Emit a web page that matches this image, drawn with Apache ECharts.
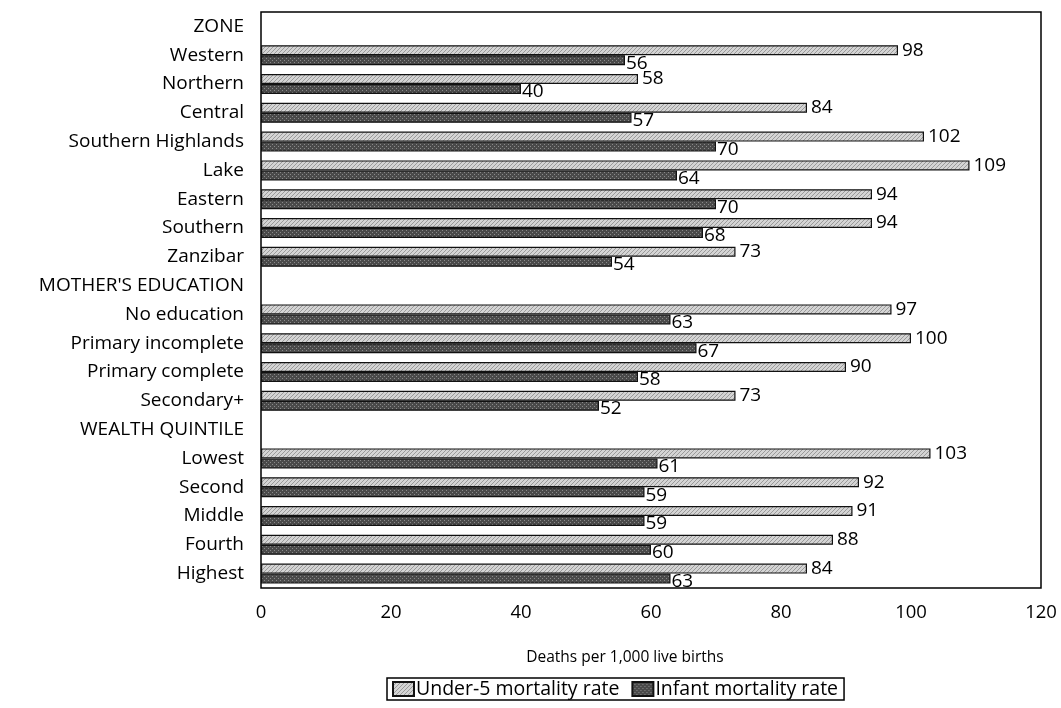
<!DOCTYPE html>
<html><head><meta charset="utf-8">
<script src="https://cdn.jsdelivr.net/npm/echarts@6/dist/echarts.min.js"></script>
<style>html,body{margin:0;padding:0;background:#fff}#c{width:1061px;height:708px}</style>
</head><body><div id="c"></div>
<script>
const categories = ["ZONE","Western","Northern","Central","Southern Highlands","Lake","Eastern","Southern","Zanzibar","MOTHER'S EDUCATION","No education","Primary incomplete","Primary complete","Secondary+","WEALTH QUINTILE","Lowest","Second","Middle","Fourth","Highest"];
const under5 = [null,98,58,84,102,109,94,94,73,null,97,100,90,73,null,103,92,91,88,84];
const infant = [null,56,40,57,70,64,70,68,54,null,63,67,58,52,null,61,59,59,60,63];
const xTicks = [0,20,40,60,80,100,120];

function pat(bg, fg, kind){
  const c=document.createElement('canvas'); c.width=4; c.height=4;
  const g=c.getContext('2d'); g.fillStyle=bg; g.fillRect(0,0,4,4); g.fillStyle=fg;
  if(kind==='diag'){ for(let i=0;i<4;i++){ g.fillRect(i,3-i,1,1);} }
  else { g.fillRect(0,0,1,1); g.fillRect(2,2,1,1); }
  return c;
}
const FONT = "Open Sans";
const chart = echarts.init(document.getElementById('c'));
chart.setOption({
  animation:false,
  textStyle:{fontFamily:FONT,color:'#000'},
  grid:{left:261,right:20,top:12,bottom:120,show:true,borderColor:'#000',borderWidth:1.5,containLabel:false},
  xAxis:{type:'value',min:0,max:120,interval:20,
    axisLine:{show:false},axisTick:{show:false},splitLine:{show:false},
    axisLabel:{fontSize:18.5,color:'#000',margin:15,fontFamily:FONT},
    name:'Deaths per 1,000 live births',nameLocation:'middle',nameGap:62,
    nameTextStyle:{fontSize:15.5,color:'#000',fontFamily:FONT,padding:[0,52,0,0]}},
  yAxis:{type:'category',data:categories,inverse:true,
    axisLine:{show:false},axisTick:{show:false},
    axisLabel:{fontSize:19,color:'#000',margin:17,fontFamily:FONT}},
  legend:{top:678,left:387,icon:'rect',itemWidth:21,itemHeight:14,itemGap:12,
    padding:[1,6,1,5],borderColor:'#000',borderWidth:1.5,
    textStyle:{fontSize:19.5,color:'#000',fontFamily:FONT,padding:[0,0,0,-3]}},
  series:[
    {name:'Under-5 mortality rate',type:'bar',data:under5,barWidth:10,barGap:'0%',
     itemStyle:{color:{image:pat('#d4d4d4','#9a9a9a','diag'),repeat:'repeat'},borderColor:'#111',borderWidth:1.2},
     label:{show:true,position:'right',distance:4,fontSize:19,color:'#000',fontFamily:FONT,offset:[0,0]}},
    {name:'Infant mortality rate',type:'bar',data:infant,barWidth:10,
     itemStyle:{color:{image:pat('#4a4a4a','#8a8a8a','dot'),repeat:'repeat'},borderColor:'#111',borderWidth:1.2},
     label:{show:true,position:'right',distance:1,fontSize:19,color:'#000',fontFamily:FONT,offset:[0,3]}}
  ]
});
</script></body></html>
